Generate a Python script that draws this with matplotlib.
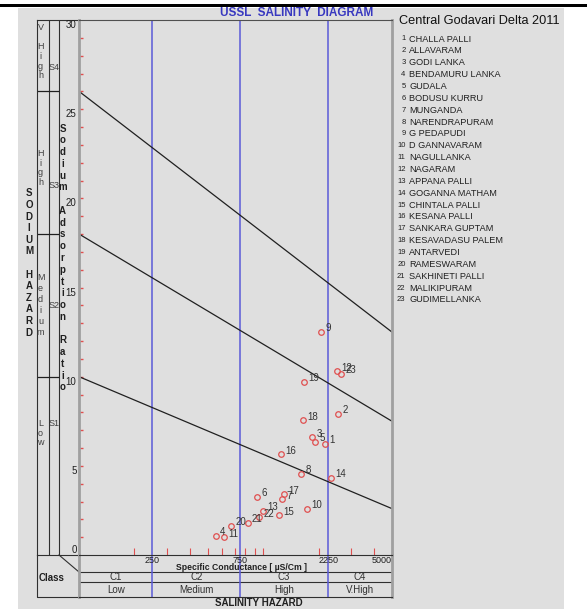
import numpy as np
import matplotlib.pyplot as plt
from matplotlib import font_manager

# --- data ---
stations = ["CHALLA PALLI", "ALLAVARAM", "GODI LANKA", "BENDAMURU LANKA", "GUDALA",
            "BODUSU KURRU", "MUNGANDA", "NARENDRAPURAM", "G PEDAPUDI", "D GANNAVARAM",
            "NAGULLANKA", "NAGARAM", "APPANA PALLI", "GOGANNA MATHAM", "CHINTALA PALLI",
            "KESANA PALLI", "SANKARA GUPTAM", "KESAVADASU PALEM", "ANTARVEDI",
            "RAMESWARAM", "SAKHINETI PALLI", "MALIKIPURAM", "GUDIMELLANKA"]
ec = [2159, 2537, 1849, 552, 1905, 922, 1270, 1599, 2052, 1722, 612, 2523,
      1001, 2334, 1222, 1250, 1302, 1644, 1665, 667, 822, 948, 2656]
sar = [6.25, 7.91, 6.59, 1.06, 6.34, 3.26, 3.13, 4.57, 12.50, 2.60, 0.99, 10.31,
       2.48, 4.33, 2.23, 5.64, 3.41, 7.55, 9.70, 1.62, 1.80, 2.11, 10.17]

ec_edges = [100, 250, 750, 2250, 5000]
c_classes = ["C1", "C2", "C3", "C4"]
c_names = ["Low", "Medium", "High", "V.High"]
sar_at_100 = [10, 18, 26]
sar_at_5000 = [2.6, 7.5, 12.5]
ec_ticks = [250, 750, 2250, 5000]
ec_minor = [200, 300, 400, 500, 600, 700, 800, 900, 1000, 2000, 3000, 4000]
sar_ticks = [0, 5, 10, 15, 20, 25, 30]

names = {f.name for f in font_manager.fontManager.ttflist}
narrow = "Liberation Sans Narrow" if "Liberation Sans Narrow" in names else "Liberation Sans"
plt.rcParams['font.family'] = [narrow, 'DejaVu Sans']

W, H = 587, 609
GREY = '#dfdfdf'
RED = '#e05050'
BLUE = '#5a5ad8'
DARK = '#303030'
AXG = '#a0a0a0'

def box(x0, y0, x1, y1):
    return [x0 / W, 1 - y1 / H, (x1 - x0) / W, (y1 - y0) / H]

fig = plt.figure(figsize=(W / 100, H / 100), dpi=100, facecolor='white')

# page layer in pixel coordinates
page = fig.add_axes([0, 0, 1, 1], zorder=-1)
page.set_xlim(0, W)
page.set_ylim(H, 0)
page.axis('off')
page.fill_between([18, 564], 8, H, color=GREY, lw=0)
page.fill_between([0, W], 4, 7, color='black', lw=0)

# main diagram
ax = fig.add_axes(box(79, 20, 392, 555), zorder=2)
ax.set_facecolor('none')
ax.set_xscale('log')
ax.set_xlim(ec_edges[0], ec_edges[-1])
ax.set_ylim(0, 30)
ax.set_xticks(ec_ticks, [str(t) for t in ec_ticks])
ax.set_xticks(ec_minor, minor=True)
ax.xaxis.set_minor_formatter(plt.NullFormatter())
ax.tick_params(axis='x', which='major', length=0, pad=1, labelsize=6.5, labelcolor='#202020')
ax.tick_params(axis='x', which='minor', direction='in', length=5, color=RED, width=0.8)
ax.get_xticklabels()[-1].set_horizontalalignment('right')
ax.set_yticks(range(1, 30))
ax.tick_params(axis='y', direction='in', length=3, color=RED, width=1, labelleft=False)
for s in ['left', 'right']:
    ax.spines[s].set_color(AXG)
    ax.spines[s].set_linewidth(2)
ax.spines['top'].set_color('#505050')
ax.spines['bottom'].set_color(DARK)
ax.spines['top'].set_linewidth(0.8)
ax.spines['bottom'].set_linewidth(0.8)

for v in ec_edges[1:-1]:
    ax.axvline(v, color=BLUE, lw=1.1)
for a, b in zip(sar_at_100, sar_at_5000):
    ax.plot([ec_edges[0], ec_edges[-1]], [a, b], color='#202020', lw=0.9)

ax.plot(ec, sar, 'o', mfc='none', mec=RED, ms=4, mew=0.9, clip_on=False)
for i, (x, y) in enumerate(zip(ec, sar)):
    ax.annotate(str(i + 1), (x, y), xytext=(3.2, 2.6), textcoords='offset points',
                fontsize=7, color='#333333', va='center', ha='left')

# left panel: sodium hazard classes
axl = fig.add_axes(box(37, 20, 79, 555), sharey=ax, zorder=1)
axl.set_facecolor('none')
axl.set_xlim(0, 42)
axl.tick_params(left=False, labelleft=False, bottom=False, labelbottom=False)
axl.spines['right'].set_visible(False)
for s in ['left', 'top', 'bottom']:
    axl.spines[s].set_color(DARK)
    axl.spines[s].set_linewidth(0.8)
axl.axvline(11.7, color=DARK, lw=0.8)
axl.axvline(22.3, color=DARK, lw=0.8)
axl.hlines(sar_at_100, 0, 22.3, color='#202020', lw=0.9)

def sy(py):
    return (555 - py) * 30 / 535

small = dict(fontsize=6.5, color='#404040', ha='center')
axl.text(3.6, sy(23), "V\n\nH\ni\ng\nh", va='top', linespacing=1.1, **small)
axl.text(3.6, sy(168), "H\ni\ng\nh", va='center', linespacing=1.1, **small)
axl.text(3.6, sy(305), "M\ne\nd\ni\nu\nm", va='center', linespacing=1.3, **small)
axl.text(3.6, sy(433), "L\no\nw", va='center', linespacing=1.1, **small)
for lab, py in zip(["S4", "S3", "S2", "S1"], [68, 185, 305, 424]):
    axl.text(17, sy(py), lab, va='center', **small)
axl.text(25.5, sy(258), "\n".join("Sodium Adsorption Ratio"), ha='center', va='center',
         fontsize=7, fontweight='bold', color='#202020', linespacing=1.22)
for t in sar_ticks:
    axl.text(39.5, t, str(t), ha='right', va='bottom' if t == 0 else 'top',
             fontsize=7, color='#202020')

page.text(29, 263, "\n".join("SODIUM") + "\n\n" + "\n".join("HAZARD"), ha='center',
          va='center', fontsize=7, fontweight='bold', color='#202020', linespacing=1.2)

# bottom panel: salinity hazard classes
axb = fig.add_axes(box(79, 555, 392, 597), sharex=ax, zorder=1)
axb.set_facecolor('none')
axb.set_ylim(42, 0)
axb.tick_params(which='both', bottom=False, labelbottom=False, left=False, labelleft=False)
axb.spines['top'].set_visible(False)
for s in ['left', 'right']:
    axb.spines[s].set_color(AXG)
    axb.spines[s].set_linewidth(2)
axb.spines['bottom'].set_color(DARK)
axb.spines['bottom'].set_linewidth(0.8)
axb.axhline(17, color=DARK, lw=0.8)
axb.axhline(27, color=DARK, lw=0.8)
for v in ec_edges[1:-1]:
    axb.axvline(v, color=BLUE, lw=1.1)
for lo, hi, c, n in zip(ec_edges[:-1], ec_edges[1:], c_classes, c_names):
    mid = np.sqrt(lo * hi)
    axb.text(mid, 22, c, ha='center', va='center', fontsize=7, color='#303030')
    axb.text(mid, 35, n, ha='center', va='center', fontsize=7, color='#303030')
axb.text(0.52, 13, "Specific Conductance [ \u00b5S/Cm ]", transform=axb.get_yaxis_transform(),
         ha='center', va='center', fontsize=6.2, fontweight='bold', color='#202020')

# class cell
page.plot([37, 37, 79], [555, 597, 597], color=DARK, lw=0.8)
page.plot([59, 79], [555, 572], color=DARK, lw=0.8)
page.text(51.5, 578, "Class", ha='center', va='center', fontsize=7, fontweight='bold',
          color='#202020')
page.text(259, 603, "SALINITY HAZARD", ha='center', va='center', fontsize=7,
          fontweight='bold', color='#202020')

# title
page.text(297, 13.5, "USSL  SALINITY  DIAGRAM", ha='center', va='center', fontsize=8.5,
          fontweight='bold', color='#3838c0')

# station list
page.text(399, 21, "Central Godavari Delta 2011", ha='left', va='center', fontsize=9.2,
          color='#101010')
for i, name in enumerate(stations):
    y = 39 + i * 11.86
    page.text(405.5, y, str(i + 1), ha='right', va='center', fontsize=5.5, color='#202020')
    page.text(409, y, name, ha='left', va='center', fontsize=6.6, color='#202020')

fig.savefig('out.png', dpi=100, facecolor='white')
